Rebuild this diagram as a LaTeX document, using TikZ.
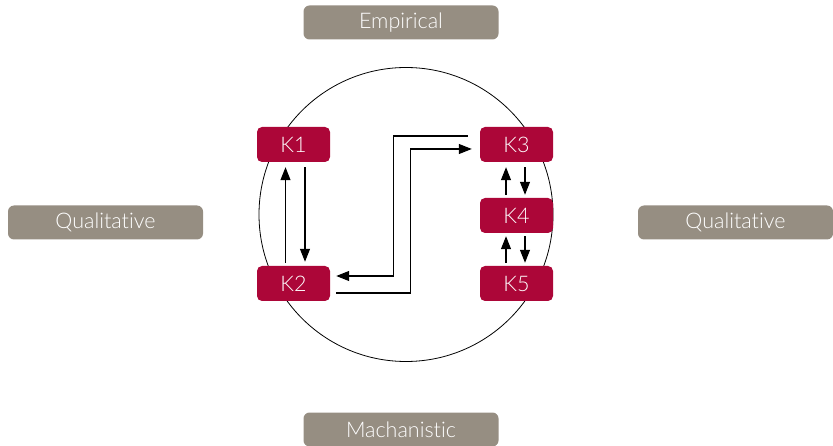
\documentclass[tikz,border=0pt]{standalone}
\usepackage{fontspec}
\setmainfont{Lato}[UprightFont=* Light, Ligatures={NoCommon}]
\usetikzlibrary{arrows.meta}
\definecolor{kred}{RGB}{172,6,56}
\definecolor{taupe}{RGB}{150,142,130}
\tikzset{
  axisbox/.style={rectangle, rounded corners=6pt, fill=taupe, text=white,
    minimum width=195pt, minimum height=34pt, inner sep=0pt,
    font=\fontsize{21.5}{24}\selectfont},
  kbox/.style={rectangle, rounded corners=5pt, fill=kred, text=white,
    minimum width=73pt, minimum height=35pt, inner sep=0pt,
    font=\fontsize{21.5}{24}\selectfont},
  arr/.style={-{Triangle[length=13pt,width=10pt]}, line width=1.2pt, black},
}
\begin{document}
\begin{tikzpicture}[x=1pt, y=-1pt]
\useasboundingbox (0,0) rectangle (833,446);

% outer ring
\node[circle, draw, line width=0.8pt, minimum size=294pt, inner sep=0pt] (ring) at (406,214.5) {};

% axis labels
\node[axisbox] (emp)   at (401,22.5)   {Empirical};
\node[axisbox] (mech)  at (401,429.5)  {Machanistic};
\node[axisbox] (qualL) at (105.5,222.5) {Qualitative};
\node[axisbox] (qualR) at (735.5,222.5) {Qualitative};

% knowledge nodes
\node[kbox] (K1) at (293.5,144.5) {K1};
\node[kbox] (K2) at (293.5,283.5) {K2};
\node[kbox] (K3) at (516.5,144.5) {K3};
\node[kbox] (K4) at (516.5,215.5) {K4};
\node[kbox] (K5) at (516.5,283.5) {K5};

% K1 <-> K2
\draw[arr] ([xshift=-8pt,yshift=3pt]K2.north) -- ([xshift=-8pt,yshift=-5pt]K1.south);
\draw[arr] ([xshift=11.5pt,yshift=-5pt]K1.south) -- ([xshift=11.5pt,yshift=4pt]K2.north);

% K3 <-> K4 <-> K5
\draw[arr] ([xshift=-10.5pt,yshift=3pt]K4.north) -- ([xshift=-10.5pt,yshift=-5pt]K3.south);
\draw[arr] ([xshift=8.5pt,yshift=-5pt]K3.south) -- ([xshift=8.5pt,yshift=3pt]K4.north);
\draw[arr] ([xshift=-10.5pt,yshift=3pt]K5.north) -- ([xshift=-10.5pt,yshift=-3pt]K4.south);
\draw[arr] ([xshift=8.5pt,yshift=-3pt]K4.south) -- ([xshift=8.5pt,yshift=3pt]K5.north);

% K3 <-> K2 crossing links
\draw[arr] ([xshift=-12pt,yshift=8.5pt]K3.west) -- ++(-74,0) |- ([xshift=6pt,yshift=7.5pt]K2.east);
\draw[arr] ([xshift=6pt,yshift=-9.5pt]K2.east) -- ++(74,0) |- ([xshift=-8pt,yshift=-4.5pt]K3.west);
\end{tikzpicture}
\end{document}
